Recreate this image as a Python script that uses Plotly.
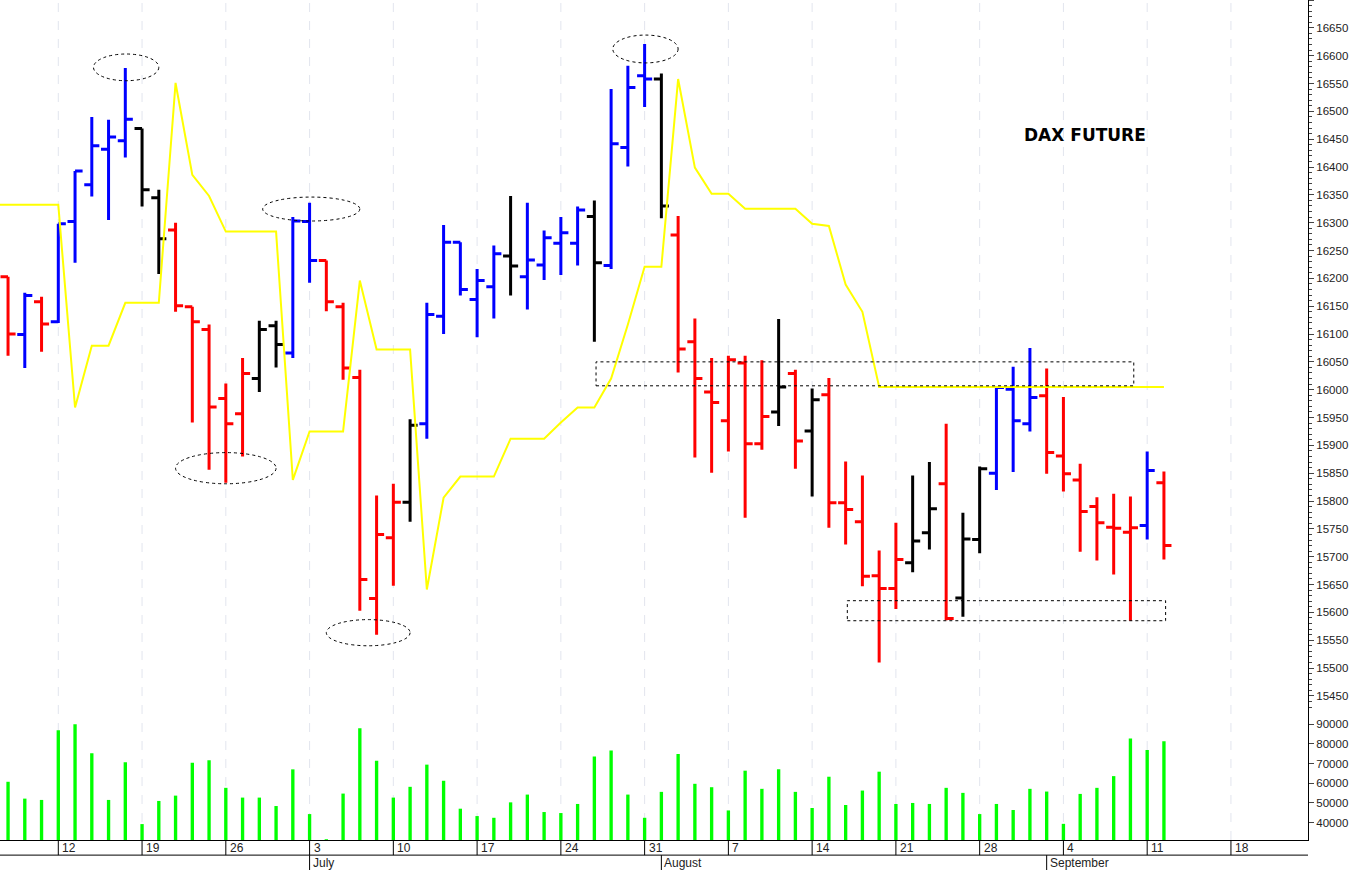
import plotly.graph_objects as go

# trading-day index 0 = Wed 7 June 2023 ... 69 = Tue 12 Sept 2023
opens = [16203, 16099, 16158, 16122, 16302, 16368, 16432, 16447, 16469, 16345,
         16287, 16149, 16108, 15984, 15957, 16020, 16115, 16066, 16302, 16232,
         16149, 16022, 15625, 15734, 15798, 15939, 16132, 16265, 16162, 16185,
         16240, 16203, 16224, 16263, 16263, 16311, 16223, 16435, 16564, 16558,
         16278, 16086, 15996, 15944, 16048, 15903, 15960, 16029, 15926, 15991,
         15797, 15763, 15666, 15643, 15689, 15743, 15831, 15626, 15731, 15850,
         16001, 15939, 15989, 15881, 15838, 15790, 15753, 15744, 15756, 15833]
highs = [16203, 16174, 16167, 16298, 16393, 16490, 16485, 16578, 16469, 16359,
         16300, 16149, 16117, 16011, 16057, 16124, 16124, 16310, 16336, 16232,
         16156, 16036, 15810, 15831, 15947, 16156, 16296, 16265, 16217, 16259,
         16348, 16336, 16286, 16310, 16329, 16340, 16540, 16582, 16621, 16568,
         16312, 16128, 16057, 16061, 16061, 16053, 16127, 16036, 16002, 16021,
         15871, 15846, 15711, 15761, 15846, 15870, 15939, 15779, 15862, 16004,
         16041, 16075, 16038, 15987, 15867, 15807, 15813, 15808, 15889, 15853]
lows = [16061, 16039, 16068, 16120, 16228, 16347, 16305, 16417, 16329, 16208,
        16140, 15941, 15856, 15833, 15880, 15996, 16040, 16057, 16192, 16141,
        16018, 15603, 15560, 15648, 15763, 15912, 16100, 16169, 16094, 16128,
        16169, 16144, 16197, 16206, 16223, 16086, 16217, 16401, 16508, 16308,
        16031, 15878, 15851, 15889, 15770, 15892, 15935, 15858, 15808, 15752,
        15722, 15647, 15510, 15606, 15672, 15713, 15586, 15592, 15706, 15820,
        15852, 15925, 15849, 15817, 15709, 15693, 15668, 15585, 15731, 15695]
closes = [16100, 16169, 16118, 16298, 16393, 16438, 16454, 16486, 16359, 16271,
          16151, 16122, 15969, 15939, 16029, 16108, 16081, 16303, 16232, 16158,
          16039, 15659, 15740, 15798, 15936, 16135, 16265, 16180, 16196, 16244,
          16222, 16233, 16273, 16282, 16323, 16228, 16442, 16543, 16558, 16330,
          16073, 16020, 15977, 16054, 15903, 15952, 16005, 15908, 15982, 15797,
          15785, 15665, 15643, 15695, 15728, 15786, 15589, 15732, 15858, 16004,
          15944, 15986, 15887, 15849, 15781, 15761, 15751, 15752, 15855, 15720]
# bar colour code: r = red, b = blue, k = black
bar_colors = list("rbrbbbbbkk" "rrrrrkkbbr" "rrrrkbbbbb" "kbbbbkbbbk"
                  "rrrrrrkrkr" "rrrrkkrkkb" "bbrrrrrrbr")
volume = [60750, 52170, 51500, 86940, 90020, 75290, 51500, 70660, 39200, 50990,
          53700, 70500, 71690, 57660, 52690, 52690, 48400, 67070, 44300, 31500,
          54740, 87970, 71500, 52690, 58180, 69480, 61260, 47040, 43290, 42410,
          50270, 54230, 45340, 44830, 49450, 73590, 76670, 54230, 42410, 55610,
          74930, 59720, 57980, 46160, 66400, 57150, 67070, 55610, 47400, 63320,
          48940, 56280, 65890, 49450, 49960, 49450, 57660, 55100, 44300, 49450,
          46370, 57150, 55770, 39330, 54570, 57660, 63630, 82840, 76980, 81440]
# yellow line, starting one day before index 0
yellow = ([16332] * 5 + [15968] + [16079] * 2 + [16156] * 3 + [16551, 16386, 16348]
          + [16284] * 4 + [15838] + [15925] * 3 + [16196] + [16072] * 3
          + [15641, 15806] + [15844] * 3 + [15912] * 3 + [15941] + [15968] * 2
          + [16020, 16117] + [16221] * 2 + [16558, 16399] + [16352] * 2
          + [16325] * 4 + [16298, 16294, 16189, 16140] + [16005] * 18)

week_idx = [3, 8, 13, 18, 23, 28, 33, 38, 43, 48, 53, 58, 63, 68, 73]
week_labels = ["12", "19", "26", "3", "10", "17", "24", "31", "7", "14", "21", "28", "4", "11", "18"]
month_idx = [18, 39, 62]
month_labels = ["July", "August", "September"]

days = list(range(len(opens)))
color_map = {"r": "#ff0000", "b": "#0000ff", "k": "#000000"}

fig = go.Figure()

fig.add_trace(go.Scatter(x=list(range(-1, len(yellow) - 1)), y=yellow, mode="lines",
                         line=dict(color="#ffff00", width=2), hoverinfo="skip"))

for code, col in color_map.items():
    sel = [i for i in days if bar_colors[i] == code]
    fig.add_trace(go.Ohlc(
        x=sel, open=[opens[i] for i in sel], high=[highs[i] for i in sel],
        low=[lows[i] for i in sel], close=[closes[i] for i in sel],
        increasing=dict(line=dict(color=col, width=3)),
        decreasing=dict(line=dict(color=col, width=3)),
        tickwidth=0.45, hoverinfo="skip"))

fig.add_trace(go.Bar(x=days, y=volume, width=0.2, marker=dict(color="#00ff00", line=dict(width=0)),
                     yaxis="y2", hoverinfo="skip"))

shapes = []
for w in week_idx:
    shapes.append(dict(type="line", xref="x", yref="paper", x0=w, x1=w, y0=0, y1=1,
                       line=dict(color="#e2e5ee", width=1, dash="dash"), layer="below"))
    shapes.append(dict(type="line", xref="x", yref="paper", x0=w, x1=w, y0=0, y1=-0.018,
                       line=dict(color="black", width=1)))
for m in month_idx:
    shapes.append(dict(type="line", xref="x", yref="paper", x0=m, x1=m, y0=-0.018, y1=-0.036,
                       line=dict(color="black", width=1)))
shapes.append(dict(type="line", xref="paper", yref="paper", x0=0, x1=1, y0=-0.018, y1=-0.018,
                   line=dict(color="black", width=1)))

ell = dict(color="black", width=1, dash="dot")
for x0, x1, y0, y1 in [(5.1, 9.0, 16555, 16603), (10.0, 16.0, 15831, 15887),
                       (15.2, 21.0, 16303, 16346), (19.0, 24.0, 15540, 15587),
                       (36.1, 40.0, 16587, 16637)]:
    shapes.append(dict(type="circle", xref="x", yref="y", x0=x0, x1=x1, y0=y0, y1=y1, line=ell))
for x0, x1, y0, y1 in [(35.1, 67.2, 16007, 16050), (50.1, 69.1, 15585, 15621)]:
    shapes.append(dict(type="rect", xref="x", yref="y", x0=x0, x1=x1, y0=y0, y1=y1, line=ell))

annotations = [dict(x=64.3, y=16458, xref="x", yref="y", text="<b>DAX FUTURE</b>", showarrow=False,
                    font=dict(family="DejaVu Sans", size=17, color="black"))]
for w, lab in zip(week_idx, week_labels):
    annotations.append(dict(x=w, y=-0.009, xref="x", yref="paper", text=lab, showarrow=False,
                            xanchor="left", yanchor="middle", xshift=2,
                            font=dict(family="Liberation Sans", size=12, color="#222")))
for m, lab in zip(month_idx, month_labels):
    annotations.append(dict(x=m, y=-0.027, xref="x", yref="paper", text=lab, showarrow=False,
                            xanchor="left", yanchor="middle", xshift=1,
                            font=dict(family="Liberation Sans", size=12, color="#222")))

fig.update_layout(
    width=1357, height=870, margin=dict(l=0, r=49, t=0, b=30),
    paper_bgcolor="white", plot_bgcolor="white", showlegend=False,
    xaxis=dict(range=[-0.48, 77.6], anchor="y2", showgrid=False, showticklabels=False, zeroline=False,
               showline=True, linecolor="black", rangeslider=dict(visible=False), fixedrange=True),
    yaxis=dict(domain=[0.155, 1], range=[15425, 16700], side="right", tickmode="linear",
               tick0=15450, dtick=50, tickformat="d", showgrid=False, zeroline=False, showline=True,
               linecolor="black", ticks="outside", ticklen=5,
               minor=dict(dtick=10, ticks="outside", ticklen=3, showgrid=False),
               tickfont=dict(family="Liberation Sans", size=11.5, color="#222")),
    yaxis2=dict(domain=[0, 0.155], range=[31100, 97400], side="right", anchor="x",
                tickvals=[40000, 50000, 60000, 70000, 80000, 90000], tickformat="d", showgrid=False,
                zeroline=False, showline=True, linecolor="black", ticks="outside", ticklen=5,
                tickfont=dict(family="Liberation Sans", size=11.5, color="#222")),
    shapes=shapes, annotations=annotations,
)

fig.write_html("out.html", config=dict(displayModeBar=False),
               post_script="document.body.style.margin='0';")
